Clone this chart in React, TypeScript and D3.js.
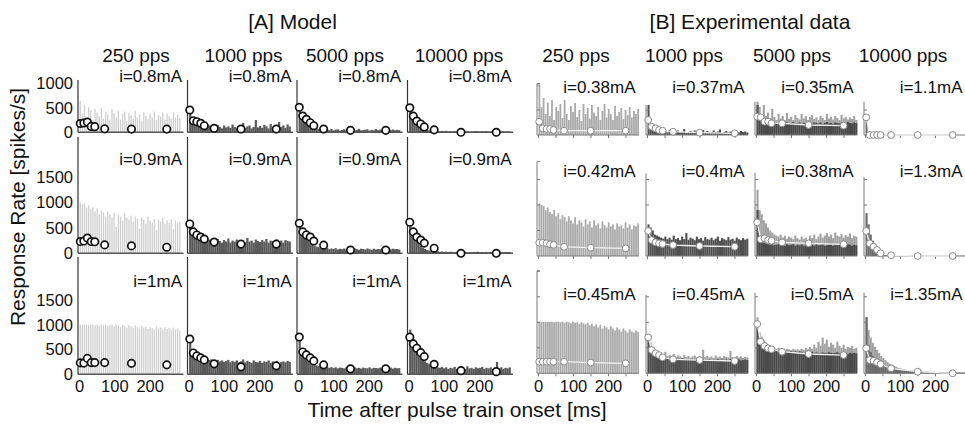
import React from "react";
import * as d3 from "d3";

const FONT = "'Liberation Sans', Arial, Helvetica, sans-serif";
const BIN = 6; // ms per histogram bin

const pulseRates = ["250 pps", "1000 pps", "5000 pps", "10000 pps"];
const modelCurrents = [
  ["i=0.8mA", "i=0.8mA", "i=0.8mA", "i=0.8mA"],
  ["i=0.9mA", "i=0.9mA", "i=0.9mA", "i=0.9mA"],
  ["i=1mA", "i=1mA", "i=1mA", "i=1mA"],
];
const expCurrents = [
  ["i=0.38mA", "i=0.37mA", "i=0.35mA", "i=1.1mA"],
  ["i=0.42mA", "i=0.4mA", "i=0.38mA", "i=1.3mA"],
  ["i=0.45mA", "i=0.45mA", "i=0.5mA", "i=1.35mA"],
];
const modelYTicks = [[0, 500, 1000], [0, 500, 1000, 1500], [0, 500, 1000, 1500]];
const xTickLabels = [0, 100, 200];
const expXTicks = [0, 50, 100, 150, 200, 250];
const modelMarkerTimes = [2, 12, 22, 33, 43, 71, 147, 247];
const expMarkerTimes = [2, 12, 23, 33, 43, 73, 149, 249];

// ---------- Model histograms (spikes/s per 6 ms bin) ----------
const m11 = [640,380,560,300,520,450,260,480,400,330,500,280,420,360,250,470,390,300,440,260,380,420,230,400,350,280,430,300,360,240,410,330,270,380,300,420,250,350,310,400,260,380,330,280,410,300,360,290];
const m12 = [420,260,220,200,180,150,160,130,120,140,100,130,90,150,110,80,140,100,120,90,160,110,80,130,100,190,90,120,140,80,110,250,100,130,90,150,120,80,170,100,130,90,210,110,140,90,160,120];
const m13 = [520,330,260,200,150,120,100,90,80,70,60,75,50,60,45,70,40,55,60,35,50,65,40,55,45,60,35,50,70,40,45,55,60,35,50,40,65,45,55,40,50,60,35,45,55,40,50,45];
const m14 = [520,320,230,170,120,90,70,55,45,40,30,35,25,30,20,28,22,30,18,25,20,28,15,22,25,18,20,26,15,22,18,25,20,15,22,18,24,16,20,18,22,15,20,18,22,16,20,18];
const m21 = [1000,960,980,900,940,860,900,820,880,760,840,800,720,820,760,700,800,520,760,720,640,780,700,660,740,620,720,680,480,700,660,580,720,640,600,680,460,660,620,700,580,640,600,660,470,640,600,620];
const m22 = [600,420,380,340,320,300,280,260,250,270,230,260,220,280,240,210,260,230,290,210,250,230,270,200,240,260,220,300,230,250,210,270,240,220,260,230,280,210,250,240,220,270,230,250,210,260,240,230];
const m23 = [620,430,360,300,250,200,170,150,130,120,110,100,90,110,80,95,85,100,75,90,80,95,70,85,90,75,95,80,70,90,85,75,95,80,70,90,75,85,80,95,70,85,80,75,90,80,85,75];
const m24 = [640,430,330,260,200,150,110,85,65,55,45,40,35,40,30,35,28,32,25,30,28,25,30,22,28,25,30,24,26,22,28,25,30,22,26,24,28,22,25,26,22,28,24,25,22,26,24,25];
const m31 = [1000,1000,1000,1000,990,1000,1000,990,1000,980,1000,990,1000,970,990,1000,960,990,980,950,990,970,940,990,960,930,980,950,920,970,940,960,910,950,930,900,960,920,940,900,950,910,930,890,940,900,920,880];
const m32 = [720,460,420,390,370,350,330,320,310,290,300,280,270,290,260,280,250,270,290,240,270,250,280,240,260,300,240,270,250,230,280,250,240,270,230,260,250,280,230,260,240,270,230,250,260,240,270,250];
const m33 = [760,470,410,350,300,260,230,200,180,170,160,150,140,150,130,145,125,140,120,135,130,120,140,115,130,125,140,120,130,115,135,125,120,140,115,130,125,120,135,115,130,120,125,135,115,130,120,125];
const m34 = [900,640,560,480,420,360,300,260,230,200,180,160,150,140,130,150,120,140,110,130,120,150,110,130,120,140,110,160,120,130,110,140,120,130,150,110,130,120,140,110,130,250,120,140,110,130,120,140];
const modelBars = [[m11, m12, m13, m14], [m21, m22, m23, m24], [m31, m32, m33, m34]];

// ---------- Model markers (mean rate at marker times) ----------
const mk11 = [180, 190, 210, 120, 115, 70, 65, 65];
const mk12 = [455, 237, 216, 184, 135, 82, 67, 67];
const mk13 = [510, 332, 265, 196, 135, 67, 40, 40];
const mk14 = [500, 330, 230, 170, 110, 50, 0, 0];
const mk21 = [230, 240, 300, 230, 225, 165, 145, 120];
const mk22 = [575, 420, 360, 320, 280, 220, 180, 180];
const mk23 = [590, 420, 360, 320, 240, 160, 65, 65];
const mk24 = [610, 420, 320, 260, 200, 100, 0, 0];
const mk31 = [230, 225, 320, 235, 235, 235, 220, 190];
const mk32 = [710, 430, 370, 330, 290, 210, 150, 170];
const mk33 = [750, 450, 390, 330, 270, 190, 110, 110];
const mk34 = [747, 612, 525, 436, 356, 202, 73, 53];
const modelMarkers = [[mk11, mk12, mk13, mk14], [mk21, mk22, mk23, mk24], [mk31, mk32, mk33, mk34]];

// ---------- Experimental histograms ----------
const e11 = [1000,560,740,420,650,380,700,300,560,480,620,340,700,420,300,580,460,640,360,500,280,620,420,540,330,600,450,380,560,300,480,620,350,520,420,300,580,380,460,540,320,500,400,560,350,480,420,520];
const e12 = [600,180,120,90,110,70,90,60,80,50,100,60,70,40,90,50,70,120,40,60,80,50,90,40,60,70,100,50,80,40,60,90,50,70,110,40,60,80,50,70,40,90,60,50,80,60,70,50];
const e13 = [600,300,280,260,250,240,260,230,250,240,220,260,240,230,250,220,240,260,230,240,250,220,240,230,260,240,220,250,240,230,250,220,240,260,230,240,220,250,240,230,250,240,220,260,240,230,250,240];
const e13L = [680,560,420,600,380,450,340,520,360,300,420,330,380,300,440,320,360,300,400,340,310,420,330,380,300,360,400,320,350,300,380,340,300,420,330,360,310,380,340,300,400,330,360,310,350,320,380,300];
const e14 = [350,20,0,0,0,0,0,0,0,0,0,0,0,0,0,0,0,0,0,0,0,0,0,0,0,0,0,0,0,0,0,0,0,0,0,0,0,0,0,0,0,0,0,0,0,0,0,0];
const e21 = [1030,1000,980,900,950,860,820,900,780,840,720,800,760,680,780,700,640,760,620,700,660,580,720,620,680,560,700,600,640,540,680,600,560,660,580,620,520,640,580,600,540,660,560,620,520,600,580,640];
const e22 = [620,560,500,420,400,380,360,340,380,330,360,320,400,330,350,310,380,330,450,320,360,340,310,380,330,350,300,370,330,320,360,310,340,380,300,350,330,310,370,320,340,300,360,330,310,350,320,340];
const e23 = [900,400,300,260,240,230,220,230,210,220,230,210,220,200,230,210,220,230,200,220,210,230,200,220,230,210,220,200,230,210,220,230,200,210,220,230,200,220,210,230,200,220,210,230,220,200,220,210];
const e23L = [1300,900,820,700,640,560,500,460,420,400,380,420,360,400,340,380,360,330,400,350,320,380,340,360,310,400,350,420,330,380,440,360,400,450,380,420,350,460,400,380,430,360,410,380,440,350,400,380];
const e24 = [840,620,420,300,200,140,90,60,40,30,25,20,15,20,10,15,10,12,8,10,6,8,5,8,6,5,8,4,6,5,4,6,5,4,6,5,4,5,6,4,5,4,6,5,4,5,4,5];
const e31 = [1010,1010,1010,1010,1010,1010,1010,1000,1010,1010,1000,1010,990,1010,1000,980,1010,990,1000,970,1000,980,960,990,940,970,920,960,900,950,880,930,900,860,920,880,840,900,860,820,880,840,800,860,820,800,840,810];
const e32 = [700,520,460,420,380,360,340,320,310,300,290,300,280,290,270,280,290,270,280,260,280,270,260,280,270,260,280,260,270,280,260,270,260,280,260,270,250,270,260,280,250,270,260,270,250,260,270,260];
const e32L = [720,600,520,460,420,400,380,360,420,340,360,330,380,320,350,330,310,360,320,340,310,330,350,310,330,300,460,320,340,310,330,300,350,310,330,300,340,320,310,440,320,300,340,310,330,300,320,310];
const e33 = [1000,650,560,520,500,480,470,460,450,460,440,450,430,440,430,420,440,420,430,410,430,420,400,420,410,400,420,400,410,400,390,410,400,390,410,400,390,400,410,390,400,390,400,380,400,390,400,390];
const e33L = [1100,800,720,640,600,560,540,520,500,480,500,470,490,460,480,470,450,480,460,470,450,480,460,500,470,520,480,560,500,620,540,700,580,660,520,600,560,500,620,540,500,560,480,520,500,540,480,500];
const e34 = [1100,560,420,340,300,260,230,200,170,150,130,110,100,90,80,70,60,55,50,45,40,38,35,32,30,28,26,25,24,22,20,20,18,18,16,16,15,15,14,14,13,13,12,12,12,11,11,10];
const e34L = [1100,850,700,600,520,460,400,340,300,260,220,190,170,150,130,110,100,90,80,70,65,60,55,50,45,40,60,35,30,40,28,25,35,22,20,30,18,20,25,16,18,22,15,16,20,14,15,18];
const expBars = [[e11, e12, e13, e14], [e21, e22, e23, e24], [e31, e32, e33, e34]];
const expLightBars = [[null, null, e13L, null], [null, null, e23L, null], [null, e32L, e33L, e34L]];

// ---------- Experimental markers ----------
const ek11 = [266, 134, 120, 120, 100, 86, 86, 86];
const ek12 = [300, 166, 134, 100, 86, 66, 46, 34];
const ek13 = [366, 354, 266, 266, 234, 234, 200, 186];
const ek14 = [354, 0, 0, 0, 0, 0, 0, 0];
const ek21 = [260, 260, 250, 230, 220, 180, 163, 150];
const ek22 = [490, 313, 268, 248, 235, 215, 196, 182];
const ek23 = [660, 327, 346, 313, 300, 268, 248, 229];
const ek24 = [490, 248, 183, 118, 53, 14, 0, 0];
const ek31 = [228, 228, 228, 228, 228, 228, 210, 196];
const ek32 = [705, 456, 392, 358, 313, 274, 260, 241];
const ek33 = [966, 620, 535, 490, 470, 423, 378, 358];
const ek34 = [490, 260, 247, 216, 176, 98, 31, 0];
const expMarkers = [[ek11, ek12, ek13, ek14], [ek21, ek22, ek23, ek24], [ek31, ek32, ek33, ek34]];

// axis extents (spikes/s) of each experimental panel
const expAxisTop = [[1030, 600, 666, 666], [1850, 1620, 1630, 1550], [2010, 1535, 1580, 1580]];

// ---------- Layout ----------
const modelColX = [78, 187.5, 297, 407.5];
const modelW = 105.5;
const modelZeroY = [132.3, 253.3, 374.3];
const modelTopY = [80, 137, 257];
const modelMax = [1067, 2280, 2360];
const expColX = [537, 646, 755, 864];
const expW = 102;
const expZeroY = [135, 256, 373.3];
const expPxPerUnit = [0.05, 0.051, 0.051];
const expBaseColor = ["#a9a9a9", "#4f4f4f", "#4a4a4a", "#6a6a6a"];
const expLightColor = "#a2a2a2";

function bars(values, xs, ys, frac, color, key, maxV) {
  return values.map((v, i) => {
    if (!v || v <= 0) return null;
    const xa = xs(i * BIN);
    const xb = xs((i + 1) * BIN);
    const vv = Math.min(v, maxV);
    return (
      <rect key={key + i} x={xa} y={ys(vv)} width={(xb - xa) * frac} height={ys(0) - ys(vv)} fill={color} />
    );
  });
}

export default function App() {
  const els = [];

  // Model panels
  for (let r = 0; r < 3; r++) {
    for (let c = 0; c < 4; c++) {
      const x0 = modelColX[c];
      const xs = d3.scaleLinear().domain([-4.5, 294.4]).range([x0, x0 + modelW]);
      const ys = d3.scaleLinear().domain([0, modelMax[r]]).range([modelZeroY[r], modelTopY[r]]);
      const k = `m${r}${c}`;
      els.push(
        <g key={k}>
          {bars(modelBars[r][c], xs, ys, c === 0 ? 0.62 : 1.05, c === 0 ? "#cfcfcf" : "#5a5a5a", k + "b", modelMax[r])}
          <line x1={x0} x2={x0 + modelW} y1={ys(0)} y2={ys(0)} stroke="#555" strokeWidth={1.6} />
          <line x1={x0} x2={x0} y1={ys(0)} y2={modelTopY[r]} stroke="#333" strokeWidth={1.2} />
          {modelMarkers[r][c].map((v, i) => (
            <circle key={k + "c" + i} cx={xs(modelMarkerTimes[i])} cy={ys(v)} r={3.7} fill="#fff" stroke="#111" strokeWidth={1.7} />
          ))}
          <text x={x0 + modelW - 1.5} y={[81.5, 165, 287][r]} textAnchor="end" fontSize={17} fontFamily={FONT} fill="#111">
            {modelCurrents[r][c]}
          </text>
          {c === 0 &&
            modelYTicks[r].map((t) => (
              <text key={k + "yt" + t} x={73} y={ys(t) + 6} textAnchor="end" fontSize={16.5} fontFamily={FONT} fill="#111">
                {t}
              </text>
            ))}
          {r === 2 &&
            xTickLabels.map((t) => (
              <text key={k + "xt" + t} x={xs(t)} y={392} textAnchor="middle" fontSize={16.5} fontFamily={FONT} fill="#111">
                {t}
              </text>
            ))}
        </g>
      );
    }
  }

  // Experimental panels
  for (let r = 0; r < 3; r++) {
    for (let c = 0; c < 4; c++) {
      const x0 = expColX[c];
      const xs = d3.scaleLinear().domain([-4.3, 287.1]).range([x0, x0 + expW]);
      const top = expAxisTop[r][c];
      const ys = d3.scaleLinear().domain([0, top]).range([expZeroY[r], expZeroY[r] - top * expPxPerUnit[r]]);
      const k = `e${r}${c}`;
      const light = expLightBars[r][c];
      const yt = d3.range(500, top + 1, 500);
      const line = d3
        .line()
        .x((d, i) => xs(expMarkerTimes[i]))
        .y((d) => ys(d));
      els.push(
        <g key={k}>
          {light && bars(light, xs, ys, 1.0, expLightColor, k + "l", top)}
          {bars(expBars[r][c], xs, ys, c === 0 ? 0.85 : 1.0, expBaseColor[c], k + "b", top)}
          <line x1={x0} x2={x0 + expW} y1={ys(0)} y2={ys(0)} stroke="#7a7a7a" strokeWidth={1} />
          <line x1={x0} x2={x0} y1={ys(0)} y2={ys(top)} stroke="#7a7a7a" strokeWidth={1} />
          {yt.map((t) => (
            <line key={k + "ytk" + t} x1={x0} x2={x0 + 3} y1={ys(t)} y2={ys(t)} stroke="#7a7a7a" strokeWidth={1} />
          ))}
          {c === 0 && <line x1={x0} x2={x0 + 3} y1={ys(top)} y2={ys(top)} stroke="#7a7a7a" strokeWidth={1} />}
          {expXTicks.map((t) => (
            <line key={k + "xtk" + t} x1={xs(t)} x2={xs(t)} y1={ys(0)} y2={ys(0) + 3} stroke="#7a7a7a" strokeWidth={1} />
          ))}
          <path d={line(expMarkers[r][c])} fill="none" stroke="#f2f2f2" strokeWidth={1.3} />
          {expMarkers[r][c].map((v, i) => (
            <circle key={k + "c" + i} cx={xs(expMarkerTimes[i])} cy={ys(v)} r={3.4} fill="#fff" stroke="#8a8a8a" strokeWidth={1} />
          ))}
          <text x={x0 + expW - 3.5} y={[93, 177, 300][r]} textAnchor="end" fontSize={17} fontFamily={FONT} fill="#111">
            {expCurrents[r][c]}
          </text>
          {r === 2 &&
            xTickLabels.map((t) => (
              <text key={k + "xt" + t} x={xs(t)} y={392} textAnchor="middle" fontSize={16.5} fontFamily={FONT} fill="#111">
                {t}
              </text>
            ))}
        </g>
      );
    }
  }

  const modelTitleX = [136, 243.5, 345, 459];
  const expTitleX = [576, 684, 792, 903];

  return (
    <svg width={965} height={426} style={{ position: "absolute", left: 0, top: 0, display: "block", background: "#fff" }}>
      <rect x={0} y={0} width={965} height={426} fill="#fff" />
      {els}
      <text x={292.5} y={29} textAnchor="middle" fontSize={21} fontFamily={FONT} fill="#111">[A] Model</text>
      <text x={750} y={29} textAnchor="middle" fontSize={21} fontFamily={FONT} fill="#111">[B] Experimental data</text>
      {pulseRates.map((p, i) => (
        <text key={"mp" + i} x={modelTitleX[i]} y={62} textAnchor="middle" fontSize={19} fontFamily={FONT} fill="#111">{p}</text>
      ))}
      {pulseRates.map((p, i) => (
        <text key={"ep" + i} x={expTitleX[i]} y={62} textAnchor="middle" fontSize={19} fontFamily={FONT} fill="#111">{p}</text>
      ))}
      <text x={457} y={417} textAnchor="middle" fontSize={21} fontFamily={FONT} fill="#111">Time after pulse train onset [ms]</text>
      <text transform="translate(25,207) rotate(-90)" textAnchor="middle" fontSize={21} fontFamily={FONT} fill="#111">Response Rate [spikes/s]</text>
    </svg>
  );
}
